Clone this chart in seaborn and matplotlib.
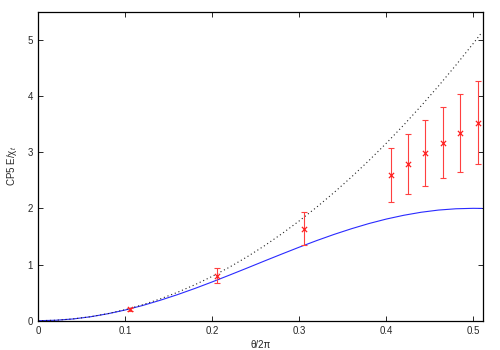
import numpy as np
import pandas as pd
import matplotlib
matplotlib.use("Agg")
import matplotlib.pyplot as plt
import seaborn as sns

# curve samples (theta/2pi, E/chi_t)
curve_x = [0.00, 0.02, 0.04, 0.06, 0.08, 0.10, 0.12, 0.14, 0.16, 0.18,
           0.20, 0.22, 0.24, 0.26, 0.28, 0.30, 0.32, 0.34, 0.36, 0.38,
           0.40, 0.42, 0.44, 0.46, 0.48, 0.50, 0.51]
solid_y = [0.000, 0.008, 0.031, 0.070, 0.124, 0.191, 0.271, 0.363, 0.464, 0.574,
           0.691, 0.813, 0.937, 1.063, 1.187, 1.309, 1.426, 1.536, 1.637, 1.729,
           1.809, 1.876, 1.930, 1.969, 1.992, 2.000, 1.998]
dotted_y = [0.000, 0.008, 0.032, 0.071, 0.126, 0.197, 0.284, 0.387, 0.505, 0.640,
            0.790, 0.955, 1.137, 1.334, 1.548, 1.777, 2.021, 2.282, 2.558, 2.850,
            3.158, 3.482, 3.822, 4.177, 4.548, 4.935, 5.134]

# measured points
pt_x = [0.105, 0.205, 0.305, 0.405, 0.425, 0.445, 0.465, 0.485, 0.505]
pt_y = [0.20, 0.80, 1.64, 2.60, 2.79, 2.98, 3.17, 3.34, 3.52]
pt_err = [0.03, 0.13, 0.30, 0.48, 0.54, 0.59, 0.63, 0.69, 0.74]

sns.set_style("ticks")
plt.rcParams["font.family"] = ["Liberation Sans", "DejaVu Sans"]
plt.rcParams["mathtext.fontset"] = "custom"
plt.rcParams["mathtext.rm"] = "Liberation Sans"
plt.rcParams["mathtext.it"] = "Liberation Sans:italic"

curves = pd.DataFrame({"x": curve_x, "solid": solid_y, "dotted": dotted_y})
points = pd.DataFrame({"x": pt_x, "y": pt_y, "err": pt_err})

fig = plt.figure(figsize=(5, 3.5), dpi=100)
ax = fig.add_axes([0.0766, 0.0837, 0.89, 0.883])

sns.lineplot(data=curves, x="x", y="solid", ax=ax, color="#2a2aff", lw=0.8)
sns.lineplot(data=curves, x="x", y="dotted", ax=ax, color="#222222", lw=0.8,
             linestyle=(0, (1, 2.5)))
ax.errorbar(points["x"], points["y"], yerr=points["err"], fmt="none",
            ecolor="#ff4040", elinewidth=0.8, capsize=2.2, capthick=0.8)
sns.scatterplot(data=points, x="x", y="y", ax=ax, marker="x", color="#ff2020",
                s=14, linewidth=0.9, zorder=5)

ax.set_xlim(0, 0.5115)
ax.set_ylim(0, 5.5)
ax.set_xticks([0, 0.1, 0.2, 0.3, 0.4, 0.5])
ax.set_xticklabels(["0", "0.1", "0.2", "0.3", "0.4", "0.5"])
ax.set_yticks([0, 1, 2, 3, 4, 5])
ax.tick_params(direction="in", length=3.5, width=0.7, labelsize=7,
               top=True, right=True, pad=4)
for s in ax.spines.values():
    s.set_linewidth(0.9)
    s.set_color("black")

ax.set_xlabel("θ/2π", fontsize=7, labelpad=3)
ax.set_ylabel("CP5 E/χ$_t$", fontsize=7, labelpad=6)

fig.savefig("out.png", dpi=100)
